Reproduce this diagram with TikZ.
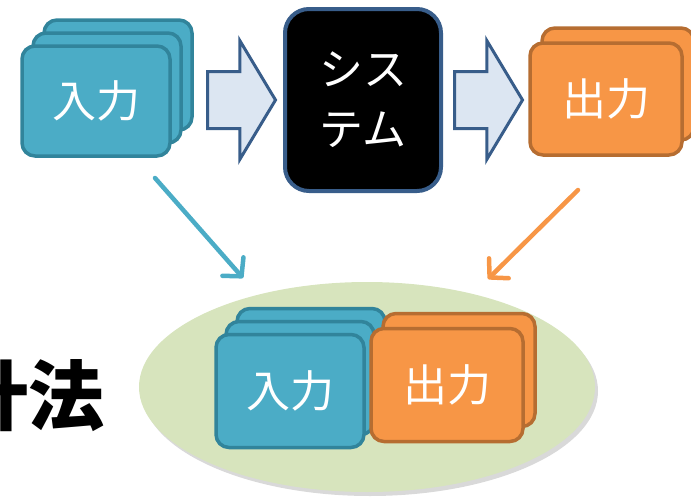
\documentclass[tikz,border=0pt]{standalone}
\usepackage{fontspec}
\newfontfamily\jp{Noto Sans CJK JP}
\usepackage{xcolor}
\usetikzlibrary{arrows.meta,shapes,shadows,positioning}

\definecolor{inFill}{HTML}{4BACC6}
\definecolor{inLine}{HTML}{31849B}
\definecolor{outFill}{HTML}{F79646}
\definecolor{outLine}{HTML}{B66D31}
\definecolor{arrFill}{HTML}{DCE6F2}
\definecolor{arrLine}{HTML}{385D8A}
\definecolor{poolFill}{HTML}{D7E4BD}

\begin{document}
\begin{tikzpicture}[x=1pt,y=-1pt]
\tikzstyle{card} = [rectangle, rounded corners=13pt, line width=3.5pt,
  minimum width=148pt, minimum height=110pt, inner sep=0pt,
  text=white, font=\jp\fontsize{44}{50}\selectfont]
\tikzstyle{incard} = [card, fill=inFill, draw=inLine]
\tikzstyle{outcard} = [card, fill=outFill, draw=outLine]
\tikzstyle{blockarrow} = [single arrow, draw=arrLine, fill=arrFill, line width=3pt,
  minimum height=68pt, inner xsep=0pt, inner ysep=27pt, single arrow head extend=31pt,
  single arrow tip angle=118, anchor=west]
\tikzstyle{thin} = [line width=4.5pt, line cap=round, -{Straight Barb[length=13pt,width=28pt,round]}]

    \useasboundingbox (0,0) rectangle (691,496);

    % top row
    \node [incard] (in3) at (118,75) {};
    \node [incard] (in2) at (107,88) {};
    \node [incard] (in1) at (96,101) {入力};
    \node [blockarrow] (arr1) at (206,100) {};
    \node [rectangle, rounded corners=24pt, fill=black, draw=arrLine, line width=4pt,
      minimum width=156pt, minimum height=182pt, align=center, text=white,
      font=\jp\fontsize{44}{60}\selectfont] (sys) at (363,100) {シス\\テム};
    \node [blockarrow] (arr2) at (453,100) {};
    \node [outcard, minimum width=152pt, minimum height=112pt] (out2) at (618,84) {};
    \node [outcard, minimum width=152pt, minimum height=112pt] (out1) at (606,99) {出力};

    % bottom
    \node [ellipse, fill=poolFill, minimum width=456pt, minimum height=210pt,
      drop shadow={shadow xshift=3pt, shadow yshift=-4pt, opacity=0.3}] (pool) at (367,387) {};
    \node [incard, minimum height=113pt] (pin3) at (311,365) {};
    \node [incard, minimum height=113pt] (pin2) at (300,378) {};
    \node [incard, minimum height=113pt] (pin1) at (290,391) {入力};
    \node [outcard, minimum width=152pt, minimum height=113pt] (pout2) at (459,370) {};
    \node [outcard, minimum width=152pt, minimum height=113pt] (pout1) at (447,385) {出力};

    \node [font=\jp\bfseries\fontsize{76}{80}\selectfont, anchor=east] (title) at (108,396) {計法};

    \coordinate (ia) at (155,178);
    \coordinate (ib) at (243,278);
    \coordinate (oa) at (578,190);
    \coordinate (ob) at (488,279);
    \draw [thin, inFill] (ia) -- (ib);
    \draw [thin, outFill] (oa) -- (ob);
\end{tikzpicture}
\end{document}
